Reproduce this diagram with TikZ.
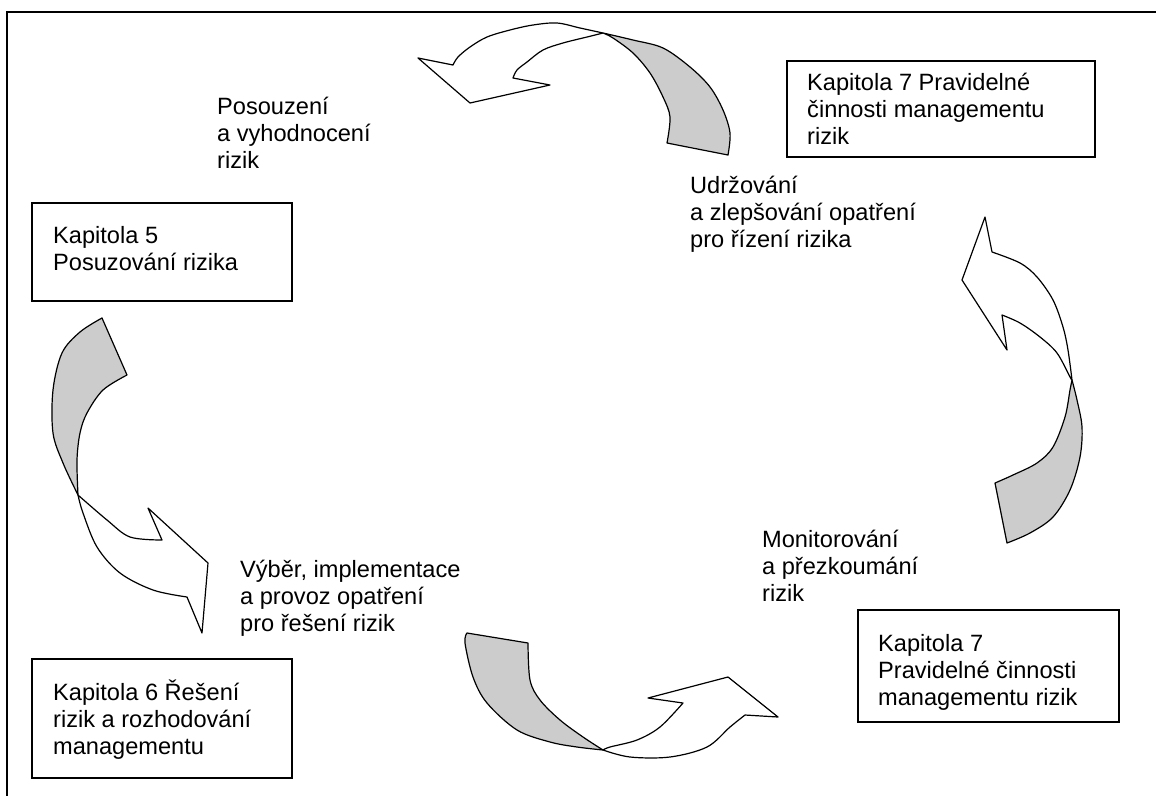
\documentclass[tikz,border=0pt]{standalone}
\usepackage{fontspec}
\setmainfont{Liberation Sans}
\begin{document}
\begin{tikzpicture}[x=1pt,y=-1pt,
  box/.style={draw=black,line width=1.5pt,inner sep=0pt,rectangle},
  txt/.style={anchor=base west,align=left,inner sep=0pt,font=\fontsize{23.6}{27}\selectfont},
  back/.style={draw=black,fill=black!20,line width=1.2pt,line join=round},
  front/.style={draw=black,fill=white,line width=1.2pt,line join=round},
  sm/.style={smooth,tension=0.55}]
\useasboundingbox (0,0) rectangle (1156,796);
\fill[white] (0,0) rectangle (1156,796);
% frame
\draw[line width=2pt] (1156,12) -- (7,12) -- (7,796);

% boxes
\node[box,minimum width=308pt,minimum height=96pt] (b7a) at (941,109) {};
\node[box,minimum width=260pt,minimum height=98pt] (b5) at (162,252) {};
\node[box,minimum width=260pt,minimum height=119pt] (b6) at (162,718.5) {};
\node[box,minimum width=261pt,minimum height=112pt] (b7b) at (988.5,666) {};

% texts (anchor = baseline of the last line)
\node[txt] (t7a) at (807,144) {Kapitola 7 Pravidelné\\činnosti managementu\\rizik};
\node[txt] (t5) at (53,270) {Kapitola 5\\Posuzování rizika};
\node[txt] (t6) at (53,754) {Kapitola 6 Řešení\\rizik a rozhodování\\managementu};
\node[txt] (t7b) at (878,705) {Kapitola 7\\Pravidelné činnosti\\managementu rizik};

% labels
\node[txt] (l1) at (217,168) {Posouzení\\a vyhodnocení\\rizik};
\node[txt] (l2) at (690,247) {Udržování\\a zlepšování opatření\\pro řízení rizika};
\node[txt] (l3) at (762,601) {Monitorování\\a přezkoumání\\rizik};
\node[txt] (l4) at (240,631) {Výběr, implementace\\a provoz opatření\\pro řešení rizik};

% top arrow
\coordinate (x1) at (603,33);
\path[back] (x1) -- plot[sm] coordinates {(603,33) (633,40) (663,48) (690,67) (710,87) (723,110) (730,133) (728,155)}
  -- (667,143) -- plot[sm] coordinates {(667,143) (670,117) (663,97) (650,73) (633,53) (613,38) (603,33)} -- cycle;
\path[front] (x1) -- plot[sm] coordinates {(603,33) (580,28) (557,23) (533,25) (510,30) (487,37) (470,47) (458,57) (453,65)}
  -- (418,58) -- (470,103) -- (550,85) -- (513,78)
  -- plot[sm] coordinates {(513,78) (517,70) (527,62) (543,50) (563,43) (587,37) (603,33)} -- cycle;

% right arrow
\coordinate (x2) at (1072,380);
\path[back] (x2) -- plot[sm] coordinates {(1072,380) (1077,400) (1082,427) (1080,457) (1070,490) (1053,517) (1030,533) (1007,543)}
  -- (995,483) -- plot[sm] coordinates {(995,483) (1013,475) (1037,463) (1053,447) (1065,417) (1070,390) (1072,380)} -- cycle;
\path[front] (x2) -- plot[sm] coordinates {(1072,380) (1068,350) (1063,327) (1053,300) (1037,277) (1020,263) (992,252)}
  -- (985,217) -- (962,280) -- (1007,350) -- (1002,315)
  -- plot[sm] coordinates {(1002,315) (1020,323) (1040,337) (1057,353) (1070,377) (1072,380)} -- cycle;

% bottom arrow
\coordinate (x3) at (603,750);
\path[back] (467,633) -- (528,643) -- plot[sm] coordinates {(528,643) (530,680) (540,700) (560,720) (583,737) (603,750)}
  -- plot[sm] coordinates {(603,750) (577,747) (550,742) (517,730) (487,703) (473,677) (465,643) (467,633)} -- cycle;
\path[front] (x3) -- plot[sm] coordinates {(603,750) (610,747) (637,740) (660,727) (683,703)}
  -- (648,698) -- (728,677) -- (778,717) -- (745,715)
  -- plot[sm] coordinates {(745,715) (730,727) (707,747) (670,757) (630,757) (603,750)} -- cycle;

% left arrow
\coordinate (x4) at (78,495);
\path[back] (102,318) -- (127,375) -- plot[sm] coordinates {(127,375) (103,390) (87,413) (80,433) (77,460) (78,495)}
  -- plot[sm] coordinates {(78,495) (63,463) (53,433) (53,390) (62,353) (80,332) (102,318)} -- cycle;
\path[front] (x4) -- plot[sm] coordinates {(78,495) (107,520) (130,537) (162,540)}
  -- (148,508) -- (208,563) -- (202,633) -- (187,597)
  -- plot[sm] coordinates {(187,597) (153,590) (120,573) (97,547) (83,513) (78,495)} -- cycle;
\end{tikzpicture}
\end{document}
